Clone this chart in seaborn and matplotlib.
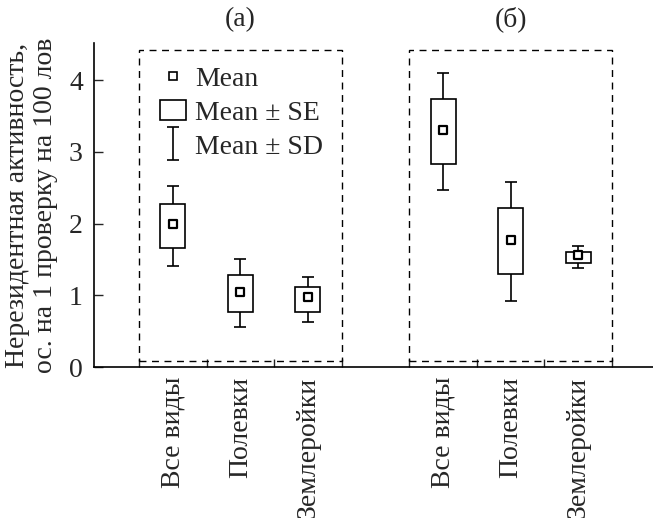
import numpy as np
import pandas as pd
import seaborn as sns
import matplotlib.pyplot as plt
from matplotlib.lines import Line2D
from matplotlib.patches import Rectangle
from matplotlib.legend_handler import HandlerErrorbar

# Категории и значения
categories = ['Все виды', 'Полевки', 'Землеройки']
panels = ['(а)', '(б)']

mean_a = [1.99, 1.04, 0.97]
se_lo_a = [1.66, 0.77, 0.77]
se_hi_a = [2.27, 1.29, 1.11]
sd_lo_a = [1.41, 0.56, 0.63]
sd_hi_a = [2.52, 1.51, 1.25]

mean_b = [3.30, 1.77, 1.56]
se_lo_b = [2.83, 1.30, 1.45]
se_hi_b = [3.74, 2.22, 1.61]
sd_lo_b = [2.47, 0.92, 1.38]
sd_hi_b = [4.10, 2.58, 1.69]

y_ticks = [0, 1, 2, 3, 4]
fs = 20

sns.set_theme(style='ticks')
plt.rcParams['font.family'] = ['Liberation Serif', 'DejaVu Serif']
plt.rcParams['axes.edgecolor'] = 'black'

df = pd.DataFrame({
    'panel': [0] * 3 + [1] * 3,
    'cat_idx': list(range(3)) * 2,
    'cat': categories * 2,
    'mean': mean_a + mean_b,
    'se_lo': se_lo_a + se_lo_b,
    'se_hi': se_hi_a + se_hi_b,
    'sd_lo': sd_lo_a + sd_lo_b,
    'sd_hi': sd_hi_a + sd_hi_b,
})
# позиция на оси: группы разделены пустым местом
df['pos'] = df['panel'] * 4 + df['cat_idx'] + 1

fig = plt.figure(figsize=(6.53, 5.18), dpi=100)
ax = fig.add_axes([0.144, 0.2915, 0.856, 0.6255])

# Mean ± SD (усы)
ax.errorbar(df['pos'], df['mean'],
            yerr=[df['mean'] - df['sd_lo'], df['sd_hi'] - df['mean']],
            fmt='none', ecolor='black', elinewidth=1.2, capsize=4, capthick=1.2, zorder=2)
# Mean ± SE (прямоугольники)
ax.bar(df['pos'], df['se_hi'] - df['se_lo'], bottom=df['se_lo'], width=0.37,
       facecolor='white', edgecolor='black', linewidth=1.2, zorder=3)
# Mean
sns.scatterplot(data=df, x='pos', y='mean', marker='s', s=30, color='white',
                edgecolor='black', linewidth=1.6, zorder=4, ax=ax)

# пунктирные рамки вокруг групп
for p in range(len(panels)):
    ax.add_patch(Rectangle((p * 4 + 0.5, 0.08), 3, 4.34, fill=False,
                           edgecolor='black', linewidth=1.0, linestyle=(0, (5, 4)),
                           zorder=1))
    ax.text(p * 4 + 2, 1.072, panels[p], transform=ax.get_xaxis_transform(),
            ha='center', va='center', fontsize=fs)

ax.set_xlim(-0.166, 8.107)
ax.set_ylim(0, 4.52)
ax.set_yticks(y_ticks)
ax.set_xticks(df['pos'])
ax.set_xticklabels(df['cat'], rotation=90)
ax.set_xticks(np.arange(0.5, 8, 1), minor=True)
ax.tick_params(axis='x', which='major', length=0, pad=7, labelsize=fs)
ax.tick_params(axis='x', which='minor', direction='in', length=6, width=1.0)
ax.tick_params(axis='y', direction='in', length=6.5, width=1.0, pad=8, labelsize=fs)
ax.set_xlabel('')
ax.set_ylabel('Нерезидентная активность,\nос. на 1 проверку на 100 лов',
              fontsize=fs, linespacing=1.15)
ax.yaxis.set_label_coords(-0.064, 0.5)
sns.despine(ax=ax)
for s in ['left', 'bottom']:
    ax.spines[s].set_linewidth(1.2)

# легенда
eb = ax.errorbar([np.nan], [np.nan], yerr=[1], fmt='none', ecolor='black',
                 elinewidth=1.2, capsize=4, capthick=1.2)
h_mean = Line2D([], [], marker='s', ls='none', mfc='white', mec='black', mew=1.2, ms=6)
h_se = Rectangle((0, 0), 1, 1, facecolor='white', edgecolor='black', linewidth=1.2)
ax.legend(handles=[h_mean, h_se, eb], labels=['Mean', 'Mean ± SE', 'Mean ± SD'],
          loc='upper left', bbox_to_anchor=(0.118, 0.93), frameon=False, fontsize=fs,
          handlelength=0.92, handleheight=0.78, handletextpad=0.35, borderpad=0,
          borderaxespad=0, labelspacing=0.28,
          handler_map={eb: HandlerErrorbar(yerr_size=0.58)})

fig.savefig('out.png', dpi=100)
